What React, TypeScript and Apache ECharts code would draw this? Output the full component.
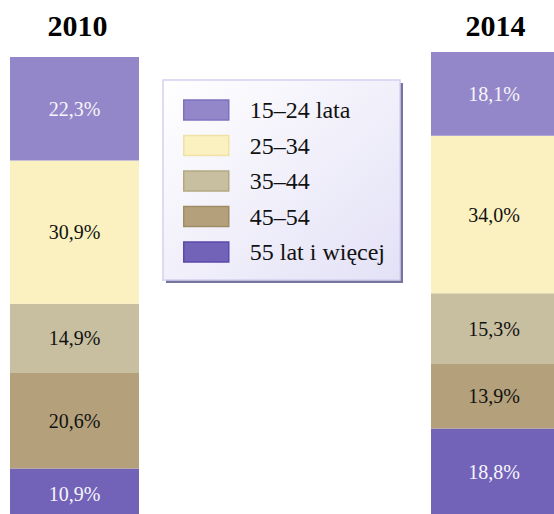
import React, { useEffect, useRef } from "react";
import * as echarts from "echarts";

const years = ["2010", "2014"];
const groups = ["15–24 lata", "25–34", "35–44", "45–54", "55 lat i więcej"];
const values2010 = [22.3, 30.9, 14.9, 20.6, 10.9];
const values2014 = [18.1, 34.0, 15.3, 13.9, 18.8];
const fills = ["#9487c9", "#fbf1c0", "#c8bfa1", "#b4a07b", "#7263b9"];
const borders = ["#7e72c0", "#efe2a6", "#b2a983", "#9f8b64", "#5b4aa9"];
const labelColors = ["#f6f6fa", "#111111", "#111111", "#111111", "#f6f6fa"];

const FONT = "Liberation Serif";

const fmt = (v: number) => v.toFixed(1).replace(".", ",") + "%";

export default function App() {
  const ref = useRef<HTMLDivElement>(null);
  useEffect(() => {
    if (!ref.current) return;
    const chart = echarts.init(ref.current, undefined, { renderer: "svg" });
    const sum = (a: number[]) => a.reduce((s, x) => s + x, 0);
    const datasets = [values2010, values2014];
    const grids = [
      { left: 10, width: 129, top: 57, height: 462, outerBoundsMode: "none" },
      { left: 431, width: 126, top: 52, height: 463.5, outerBoundsMode: "none" },
    ];
    const titleX = [77.5, 495.5];
    const series: any[] = [];
    datasets.forEach((vals, gi) => {
      for (let i = groups.length - 1; i >= 0; i--) {
        series.push({
          type: "bar",
          name: groups[i],
          xAxisIndex: gi,
          yAxisIndex: gi,
          stack: "s" + gi,
          barWidth: "100%",
          data: [vals[i]],
          itemStyle: { color: fills[i] },
          label: {
            show: true,
            position: "inside",
            formatter: (p: any) => fmt(p.value),
            color: labelColors[i],
            fontFamily: FONT,
            fontSize: 20,
          },
        });
      }
    });
    chart.setOption({
      animation: false,
      textStyle: { fontFamily: FONT },
      grid: grids,
      xAxis: grids.map((_, i) => ({
        type: "category",
        gridIndex: i,
        data: [years[i]],
        show: false,
      })),
      yAxis: grids.map((_, i) => ({
        type: "value",
        gridIndex: i,
        min: 0,
        max: sum(datasets[i]),
        show: false,
      })),
      graphic: [
        ...years.map((y, i) => ({
          type: "text",
          x: titleX[i],
          y: 25,
          style: {
            text: y,
            textAlign: "center",
            textVerticalAlign: "middle",
            fontFamily: FONT,
            fontSize: 30,
            fontWeight: "bold",
            fill: "#000",
          },
          z: 10,
        })),
        {
          type: "rect",
          shape: { x: 166, y: 83, width: 237, height: 200 },
          style: { fill: "#77759f" },
          z: 0,
        },
        {
          type: "rect",
          shape: { x: 163, y: 80, width: 237, height: 200 },
          style: {
            fill: new echarts.graphic.LinearGradient(0, 0, 1, 1, [
              { offset: 0, color: "#ffffff" },
              { offset: 1, color: "#e3e1f6" },
            ]),
            stroke: "#d3d1f1",
            lineWidth: 1.5,
          },
          z: 1,
        },
      ],
      legend: {
        orient: "vertical",
        left: 183,
        top: 98,
        padding: 0,
        itemWidth: 45,
        itemHeight: 20,
        itemGap: 11.5,
        icon: "rect",
        z: 5,
        data: groups.map((g, i) => ({
          name: g,
          itemStyle: { color: fills[i], borderColor: borders[i], borderWidth: 1.5 },
        })),
        formatter: (name: string) => `{g|}{t|${name}}`,
        textStyle: {
          fontFamily: FONT,
          fontSize: 24,
          lineHeight: 20,
          color: "#111",
          rich: {
            g: { width: 16, height: 20 },
            t: { fontFamily: FONT, fontSize: 24, lineHeight: 20, color: "#111" },
          },
        },
        selectedMode: false,
      },
      series,
    });
    return () => chart.dispose();
  }, []);
  return (
    <div
      ref={ref}
      style={{ position: "absolute", left: 0, top: 0, width: 554, height: 514, background: "#fff" }}
    />
  );
}
